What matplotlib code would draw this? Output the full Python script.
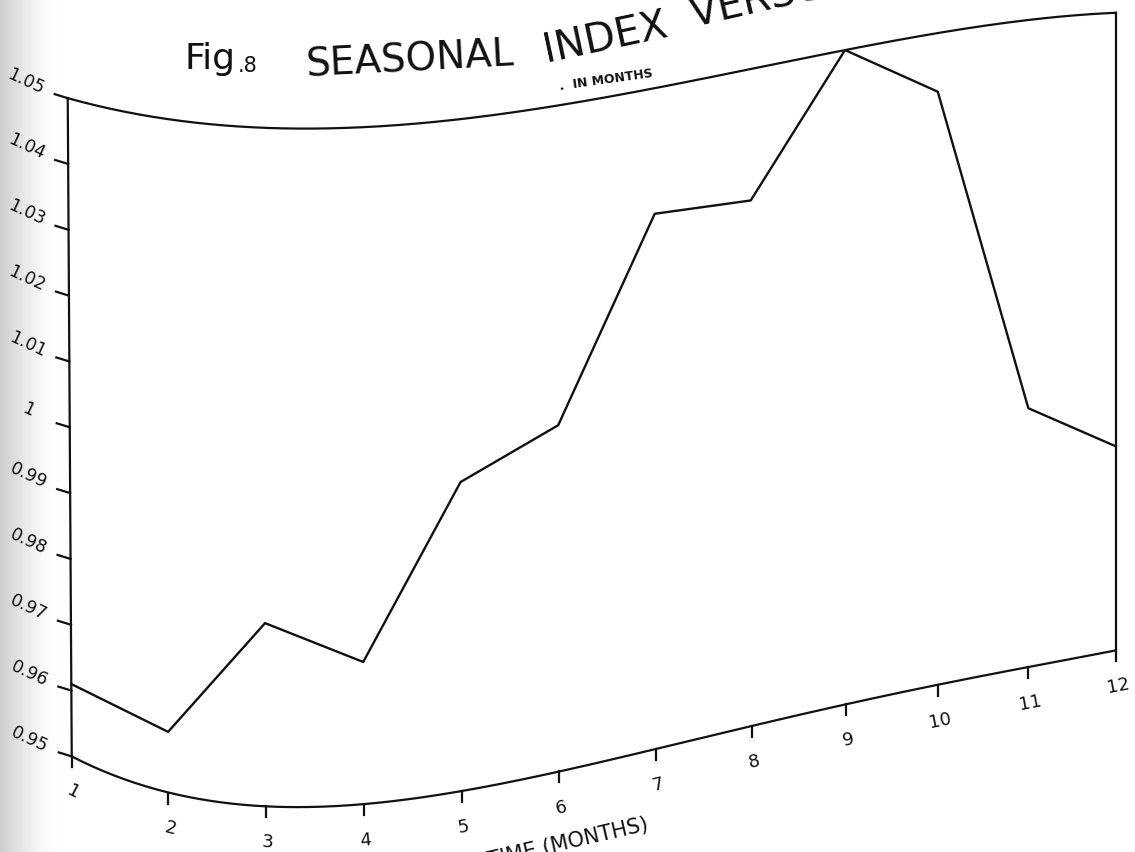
import numpy as np
import matplotlib
matplotlib.use("Agg")
import matplotlib.pyplot as plt
import matplotlib.transforms as mtransforms

# seasonal index per month
months = np.arange(1, 13)
seasonal_index = [0.961, 0.959, 0.977, 0.971, 0.996, 1.002,
                  1.031, 1.030, 1.050, 1.041, 0.990, 0.982]

y_ticks = [0.95, 0.96, 0.97, 0.98, 0.99, 1.00, 1.01, 1.02, 1.03, 1.04, 1.05]
y_tick_labels = ["0.95", "0.96", "0.97", "0.98", "0.99", "1",
                 "1.01", "1.02", "1.03", "1.04", "1.05"]
x_tick_labels = [str(m) for m in months]

Y_MIN, Y_MAX = 0.95, 1.05

# the printed sheet is bent: frame edges in page pixels, sampled at each month
EDGE_X = [75, 165, 263, 364, 463, 562, 658, 751, 846, 936, 1027, 1118]
EDGE_BOTTOM = [757, 794, 808, 805, 791, 772, 750, 728, 706, 685, 667, 652]
EDGE_TOP = [100, 119, 127, 128, 122, 110, 88, 68, 48, 36, 24, 12]

px = np.polyfit(months, EDGE_X, 3)
pb = np.polyfit(months, EDGE_BOTTOM, 4)
pt = np.polyfit(months, EDGE_TOP, 4)


class SheetWarp(mtransforms.Transform):
    """(month, index) -> page pixel, following the curved frame."""
    input_dims = 2
    output_dims = 2
    is_separable = False
    has_inverse = False

    def transform_non_affine(self, values):
        values = np.asarray(values, dtype=float).reshape(-1, 2)
        m, v = values[:, 0], values[:, 1]
        frac = (v - Y_MIN) / (Y_MAX - Y_MIN)
        yb = np.polyval(pb, m)
        yt = np.polyval(pt, m)
        x = np.polyval(px, m) - 4 * frac * (1 - (m - 1) / 11)
        y = yb + frac * (yt - yb)
        return np.column_stack([x, y])


W, H = 1135, 853
fig = plt.figure(figsize=(W / 100, H / 100), dpi=100)
ax = fig.add_axes([0, 0, 1, 1])
ax.set_xlim(0, W)
ax.set_ylim(H, 0)
ax.axis("off")

# grey shading along the scanned page edge
shade = np.ones((1, 60, 4))
shade[..., :3] = 0.80
shade[0, :, 3] = np.linspace(1, 0, 60) ** 1.6
ax.imshow(shade, extent=[0, 60, H, 0], aspect="auto", zorder=0)

warp = SheetWarp()
tr = warp + ax.transData
ink = "#111111"
font = "DejaVu Sans"

# curved frame
mm = np.linspace(1, 12, 300)
ax.plot(mm, np.full_like(mm, Y_MIN), transform=tr, color=ink, lw=1.6)
ax.plot(mm, np.full_like(mm, Y_MAX), transform=tr, color=ink, lw=1.6)
vv = np.linspace(Y_MIN, Y_MAX, 50)
ax.plot(np.full_like(vv, 1), vv, transform=tr, color=ink, lw=1.6)
ax.plot(np.full_like(vv, 12), vv, transform=tr, color=ink, lw=1.6)

# seasonal index line
ax.plot(months, seasonal_index, transform=tr, color=ink, lw=1.7)

# left ticks and labels
for val, lab in zip(y_ticks, y_tick_labels):
    x0, y0 = warp.transform([[1, val]])[0]
    ax.plot([x0, x0 - 13], [y0, y0 - 4], color=ink, lw=1.6)
    ax.text(x0 - 42, y0 - 18, lab, fontsize=12.5, family=font, color=ink,
            rotation=-25, ha="center", va="center")

# bottom ticks and labels
for m, lab in zip(months, x_tick_labels):
    x0, y0 = warp.transform([[m, Y_MIN]])[0]
    xa, ya = tr.transform([[m - 0.1, Y_MIN]])[0]
    xb, yb = tr.transform([[m + 0.1, Y_MIN]])[0]
    ang = np.degrees(np.arctan2(yb - ya, xb - xa))
    ax.plot([x0, x0], [y0, y0 + 11], color=ink, lw=1.6)
    ax.text(x0 + 2, y0 + 35, lab, fontsize=13, family=font, color=ink,
            rotation=ang, ha="center", va="center")

# titles, following the bend of the page
ax.text(184, 69, "Fig", fontsize=26, family=font, color=ink,
        ha="left", va="baseline")
ax.text(238, 72, ".8", fontsize=15, family=font, color=ink,
        ha="left", va="baseline")
ax.text(306, 77, "SEASONAL", fontsize=28, family=font, color=ink,
        rotation=3, rotation_mode="anchor", ha="left", va="baseline")
ax.text(546, 62, "INDEX", fontsize=29, family=font, color=ink,
        rotation=12, rotation_mode="anchor", ha="left", va="baseline")
ax.text(694, 28, "VERSUS TIME", fontsize=29, family=font, color=ink,
        rotation=13, rotation_mode="anchor", ha="left", va="baseline")
ax.text(560, 90, ".  IN MONTHS", fontsize=9, family=font, color=ink,
        rotation=8, rotation_mode="anchor", ha="left", va="baseline",
        fontweight="bold")
ax.text(568, 843, "TIME (MONTHS)", fontsize=15, family=font, color=ink,
        rotation=13, ha="center", va="center")

fig.savefig("out.png", dpi=100, facecolor="white")
